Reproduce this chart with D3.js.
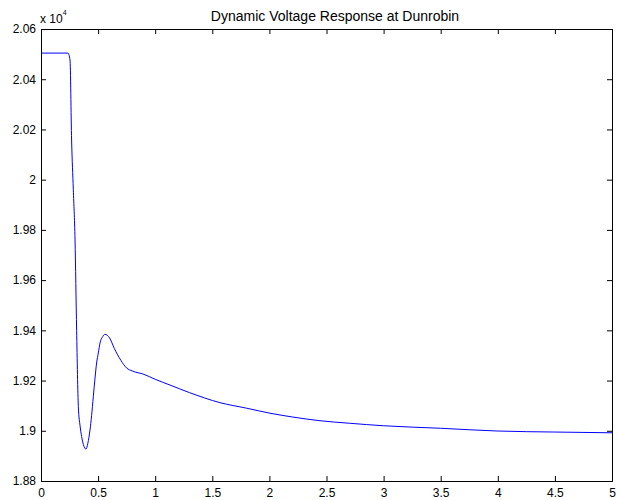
<!DOCTYPE html>
<html>
<head>
<meta charset="utf-8">
<script src="https://cdn.jsdelivr.net/npm/d3@7"></script>
<style>
  body { margin: 0; background: #fff; }
  text { font-family: "Liberation Sans", Arial, sans-serif; }
</style>
</head>
<body>
<div id="chart"></div>
<script>
// Time (s)
var time = [0, 0.236, 0.254, 0.268, 0.283, 0.298, 0.312, 0.327, 0.342, 0.356, 0.371,
    0.394, 0.41, 0.429, 0.443, 0.458, 0.473, 0.487, 0.502, 0.517, 0.54, 0.56, 0.6,
    0.642, 0.7, 0.75, 0.8, 0.9, 1.0, 1.13, 1.3, 1.567, 1.8, 2.005, 2.2, 2.443, 2.7,
    3.0, 3.5, 4.0, 4.5, 5.0];
// Voltage (V)
var voltage = [20504, 20504, 20477, 20158, 19960, 19760, 19400, 19096, 19020, 18977, 18945,
    18927, 18950, 19003, 19060, 19136, 19210, 19270, 19310, 19350, 19375, 19384, 19370,
    19328, 19280, 19250, 19238, 19225, 19205, 19182, 19152, 19112, 19090, 19070, 19055, 19040, 19030,
    19020, 19010, 18999, 18995, 18992];
var xTicks = [0, 0.5, 1, 1.5, 2, 2.5, 3, 3.5, 4, 4.5, 5];
var yTicks = [18800, 19000, 19200, 19400, 19600, 19800, 20000, 20200, 20400, 20600];

var width = 618, height = 500;
var margin = { top: 29, right: 6, bottom: 19, left: 41 };
var w = width - margin.left - margin.right;
var h = height - margin.top - margin.bottom;

var svg = d3.select("#chart")
    .append("svg")
    .attr("width", width)
    .attr("height", height);

var g = svg.append("g")
    .attr("transform", "translate(" + margin.left + "," + margin.top + ")");

var x = d3.scaleLinear().domain([0, 5]).range([0, w]);
var y = d3.scaleLinear().domain([18800, 20600]).range([h, 0]);

var fmtY = function(d) { return String(+(d / 1e4).toFixed(2)); };

// Axes: MATLAB style ticks pointing inward on all sides
g.append("g")
    .attr("transform", "translate(0," + h + ")")
    .call(d3.axisBottom(x).tickValues(xTicks).tickSize(-5).tickPadding(7).tickFormat(d3.format("")));
g.append("g")
    .call(d3.axisTop(x).tickValues(xTicks).tickSize(-5).tickFormat(""));
g.append("g")
    .call(d3.axisLeft(y).tickValues(yTicks).tickSize(-5).tickPadding(5).tickFormat(fmtY));
g.append("g")
    .attr("transform", "translate(" + w + ",0)")
    .call(d3.axisRight(y).tickValues(yTicks).tickSize(-5).tickFormat(""));

g.selectAll(".domain").attr("stroke", "#000").attr("stroke-width", 1);
g.selectAll(".tick line").attr("stroke", "#000");
g.selectAll(".tick text")
    .attr("font-size", "12px")
    .attr("fill", "#000")
    .style("font-family", "'Liberation Sans', Arial, sans-serif");

// Line
var pts = time.map(function(t, i) { return [t, voltage[i]]; });
var line = d3.line()
    .x(function(d) { return x(d[0]); })
    .y(function(d) { return y(d[1]); })
    .curve(d3.curveMonotoneX);

g.append("path")
    .datum(pts)
    .attr("fill", "none")
    .attr("stroke", "#0000ff")
    .attr("stroke-width", 1)
    .attr("d", line);

// Title
svg.append("text")
    .attr("x", 335)
    .attr("y", 21)
    .attr("text-anchor", "middle")
    .attr("font-size", "14px")
    .text("Dynamic Voltage Response at Dunrobin");

// Exponent label
var expo = svg.append("text")
    .attr("x", 40)
    .attr("y", 23)
    .attr("font-size", "12px")
    .text("x 10");
expo.append("tspan")
    .attr("dy", -8)
    .attr("font-size", "7px")
    .text("4");
</script>
</body>
</html>
